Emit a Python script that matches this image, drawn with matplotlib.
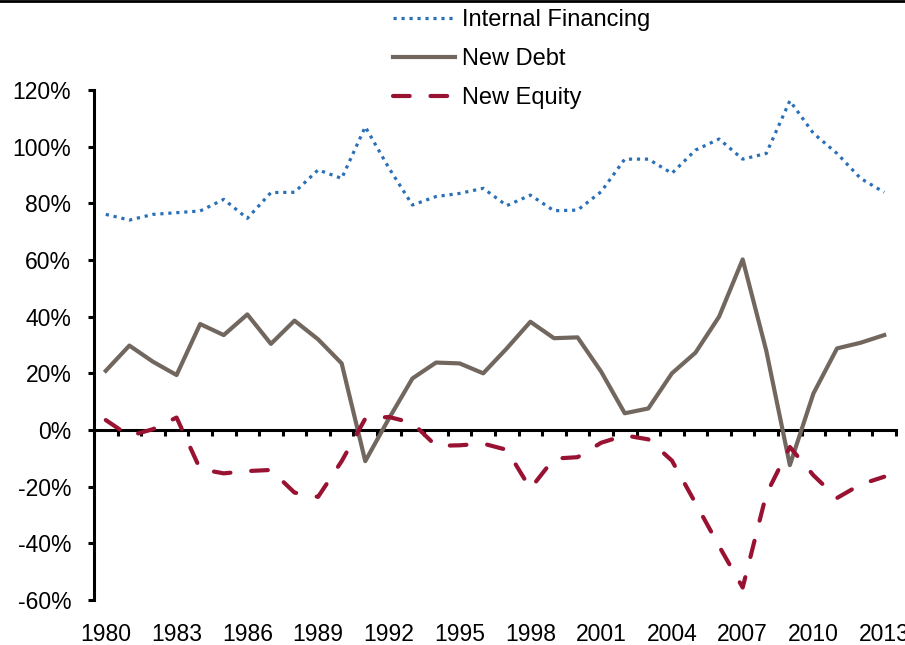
import numpy as np
import matplotlib.pyplot as plt
from matplotlib.lines import Line2D
from matplotlib.ticker import MultipleLocator, FuncFormatter

years = list(range(1980, 2014))

# shares of financing, in percent
internal = [76.1, 74.1, 76.1, 76.7, 77.3, 81.4, 74.7, 83.8, 83.9, 91.8,
            88.8, 107.0, 92.5, 79.4, 82.4, 83.5, 85.3, 79.2, 82.9, 77.4,
            77.6, 84.1, 95.6, 95.6, 90.6, 98.8, 102.7, 95.6, 97.6, 116.2,
            104.7, 97.6, 88.8, 83.9]
debt = [20.9, 29.8, 24.1, 19.4, 37.4, 33.5, 40.8, 30.4, 38.6, 32.0,
        23.5, -11.0, 4.0, 18.2, 23.8, 23.5, 20.0, 28.8, 38.2, 32.4,
        32.7, 20.6, 5.9, 7.6, 20.0, 27.3, 40.0, 60.2, 28.0, -12.4,
        12.9, 28.8, 30.8, 33.5]
equity = [3.5, -2.1, 0.3, 4.4, -13.8, -15.3, -14.5, -14.1, -22.1, -23.6,
          -11.0, 4.0, 4.6, 2.5, -5.6, -5.4, -4.8, -7.0, -20.7, -10.1,
          -9.6, -4.5, -1.9, -3.3, -10.8, -25.8, -41.0, -55.6, -22.7, -6.0,
          -16.0, -24.0, -19.2, -16.5]

BLUE = '#2a70b8'
GREY = '#71675f'
RED = '#991232'

plt.rcParams['font.family'] = ['Liberation Sans', 'DejaVu Sans']

fig = plt.figure(figsize=(9.05, 6.45), dpi=100)
ax = fig.add_axes([94 / 905, 45 / 645, 802 / 905, 510 / 645])

x = np.arange(len(years))
ax.plot(x, np.array(internal) / 100, color=BLUE, lw=2.3, ls=(0, (1, 1.5)),
        label='Internal Financing', zorder=3)
ax.plot(x, np.array(debt) / 100, color=GREY, lw=3.0, ls='-',
        label='New Debt', zorder=3)
ax.plot(x, np.array(equity) / 100, color=RED, lw=3.0, ls=(0, (4, 5)),
        dash_capstyle='round', label='New Equity', zorder=3)

ax.set_xlim(-0.5, len(years) - 0.5)
ax.set_ylim(-0.6, 1.2)

ax.yaxis.set_major_locator(MultipleLocator(0.2))
ax.yaxis.set_major_formatter(FuncFormatter(lambda v, p: f'{int(round(v * 100))}%'))
ax.set_xticks(x[::3])
ax.set_xticklabels([str(y) for y in years[::3]])
ax.set_xticks(np.arange(-0.5, len(years)), minor=True)

ax.tick_params(axis='y', direction='out', length=4.3, width=2.2, pad=12, labelsize=16.5)
ax.tick_params(axis='x', which='major', length=0, pad=139, labelsize=16.5)
ax.tick_params(axis='x', which='minor', direction='out', length=4.3, width=2.2)

ax.spines['top'].set_visible(False)
ax.spines['right'].set_visible(False)
ax.spines['left'].set_linewidth(2.2)
ax.spines['bottom'].set_linewidth(2.2)
ax.spines['bottom'].set_position(('data', 0))

ax.legend(loc='upper left', bbox_to_anchor=(393 / 905, 1 - 9 / 645),
          bbox_transform=fig.transFigure, frameon=False, fontsize=17,
          handlelength=2.63, handletextpad=0.3, labelspacing=0.72,
          borderpad=0, borderaxespad=0)

# black rule along the top edge
fig.add_artist(Line2D([0, 1], [1 - 1.3 / 645, 1 - 1.3 / 645], transform=fig.transFigure,
                      color='black', lw=2))

fig.savefig('out.png', dpi=100)
